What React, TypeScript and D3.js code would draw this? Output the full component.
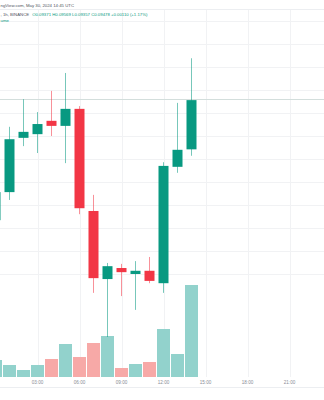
import React from "react";
import * as d3 from "d3";

const W = 324;
const H = 400;

// hourly candles, 2024-05-30 UTC
const hours = [0, 1, 2, 3, 4, 5, 6, 7, 8, 9, 10, 11, 12, 13, 14];
const opens = [0.09217, 0.09278, 0.09396, 0.09404, 0.09433, 0.09422, 0.09459, 0.09237, 0.09089, 0.09113, 0.091, 0.09107, 0.0908, 0.09333, 0.09371];
const highs = [0.0929, 0.0942, 0.0948, 0.09452, 0.09498, 0.09537, 0.09465, 0.09272, 0.09124, 0.09122, 0.09128, 0.09137, 0.09343, 0.09472, 0.09569];
const lows = [0.09205, 0.09261, 0.09378, 0.09363, 0.094, 0.09341, 0.0923, 0.09059, 0.08963, 0.09052, 0.09022, 0.0908, 0.09059, 0.0932, 0.09357];
const closes = [0.09278, 0.09393, 0.09409, 0.09426, 0.09422, 0.09459, 0.09243, 0.09091, 0.09117, 0.09104, 0.09107, 0.09085, 0.09335, 0.0937, 0.09478];
const volumes = [1.7, 1.2, 0.7, 1.2, 1.8, 3.3, 2.0, 3.4, 4.1, 0.9, 1.3, 1.5, 4.8, 2.3, 9.2];

const lastPrice = 0.09478;
const headerLine1 = "ngView.com, May 30, 2024 14:45 UTC";
const headerSymbol = ", 1h, BINANCE";
const headerValues = "O0.09371 H0.09569 L0.09357 C0.09478 +0.00110 (+1.17%)";
const volumeLabel = "ume";

const UP = "#089981";
const DOWN = "#f23645";
const UP_VOL = "#92d2cc";
const DOWN_VOL = "#f7a9a7";
const GRID = "#f1f2f4";

export default function App() {
  const t0 = new Date(Date.UTC(2024, 4, 30, 0));
  const t1 = new Date(Date.UTC(2024, 4, 30, 21));
  const x = d3.scaleUtc().domain([t0, t1]).range([-4.5, 289.5]);
  const y = d3.scaleLinear().domain([0.091, 0.0965]).range([274, 21]);
  const yv = d3.scaleLinear().domain([0, 10]).range([377, 277]);

  const candles = hours.map((h, i) => ({
    t: new Date(Date.UTC(2024, 4, 30, h)),
    o: opens[i],
    h: highs[i],
    l: lows[i],
    c: closes[i],
    v: volumes[i],
  }));

  const timeTicks = x.ticks(d3.utcHour.every(3)!).filter((d) => d.getUTCHours() !== 0);
  const fmt = d3.utcFormat("%H:%M");
  const priceGrid = d3.range(0.091, 0.09651, 0.0005);
  const bodyW = 10;
  const volW = 13;

  return (
    <svg
      width={W}
      height={H}
      style={{ position: "absolute", left: 0, top: 0, background: "#fff" }}
      fontFamily="'Liberation Sans', Arial, sans-serif"
    >
      <rect x={0} y={0} width={W} height={H} fill="#fff" />
      {/* top separator */}
      <line x1={0} x2={W} y1={9.5} y2={9.5} stroke="#eceef1" />
      {/* horizontal grid */}
      {priceGrid.map((p, i) => (
        <line key={"hg" + i} x1={0} x2={W} y1={Math.round(y(p)) + 0.5} y2={Math.round(y(p)) + 0.5} stroke={GRID} />
      ))}
      {/* vertical grid */}
      {timeTicks.map((t, i) => (
        <line key={"vg" + i} x1={Math.round(x(t)) + 0.5} x2={Math.round(x(t)) + 0.5} y1={10} y2={377} stroke={GRID} />
      ))}
      {/* price line */}
      <line x1={0} x2={W} y1={Math.round(y(lastPrice)) - 0.5} y2={Math.round(y(lastPrice)) - 0.5} stroke="#d3dedc" />
      {/* volume bars */}
      {candles.map((d, i) => (
        <rect
          key={"v" + i}
          x={x(d.t) - volW / 2}
          y={yv(d.v)}
          width={volW}
          height={yv(0) - yv(d.v)}
          fill={d.c >= d.o ? UP_VOL : DOWN_VOL}
        />
      ))}
      {/* candles */}
      {candles.map((d, i) => {
        const up = d.c >= d.o;
        const col = up ? UP : DOWN;
        const top = y(Math.max(d.o, d.c));
        const bot = y(Math.min(d.o, d.c));
        return (
          <g key={"c" + i}>
            <line x1={x(d.t)} x2={x(d.t)} y1={y(d.h)} y2={y(d.l)} stroke={col} strokeOpacity={0.55} strokeWidth={1} />
            <rect x={x(d.t) - bodyW / 2} y={top} width={bodyW} height={Math.max(1, bot - top)} fill={col} />
          </g>
        );
      })}
      {/* time axis */}
      <line x1={0} x2={W} y1={387.5} y2={387.5} stroke="#eceef1" />
      {timeTicks.map((t, i) => (
        <text key={"tl" + i} x={x(t)} y={383.5} fontSize={4.6} fill="#8a8d96" textAnchor="middle">
          {fmt(t)}
        </text>
      ))}
      {/* header */}
      <text x={0.5} y={6.5} fontSize={4.3} fill="#50535e">
        {headerLine1}
      </text>
      <text x={0.5} y={16} fontSize={4.3} fill="#50535e">
        {headerSymbol}
        <tspan dx={3} fill={UP}>
          {headerValues}
        </tspan>
      </text>
      <text x={0.5} y={22} fontSize={4.3} fill={UP}>
        {volumeLabel}
      </text>
    </svg>
  );
}
